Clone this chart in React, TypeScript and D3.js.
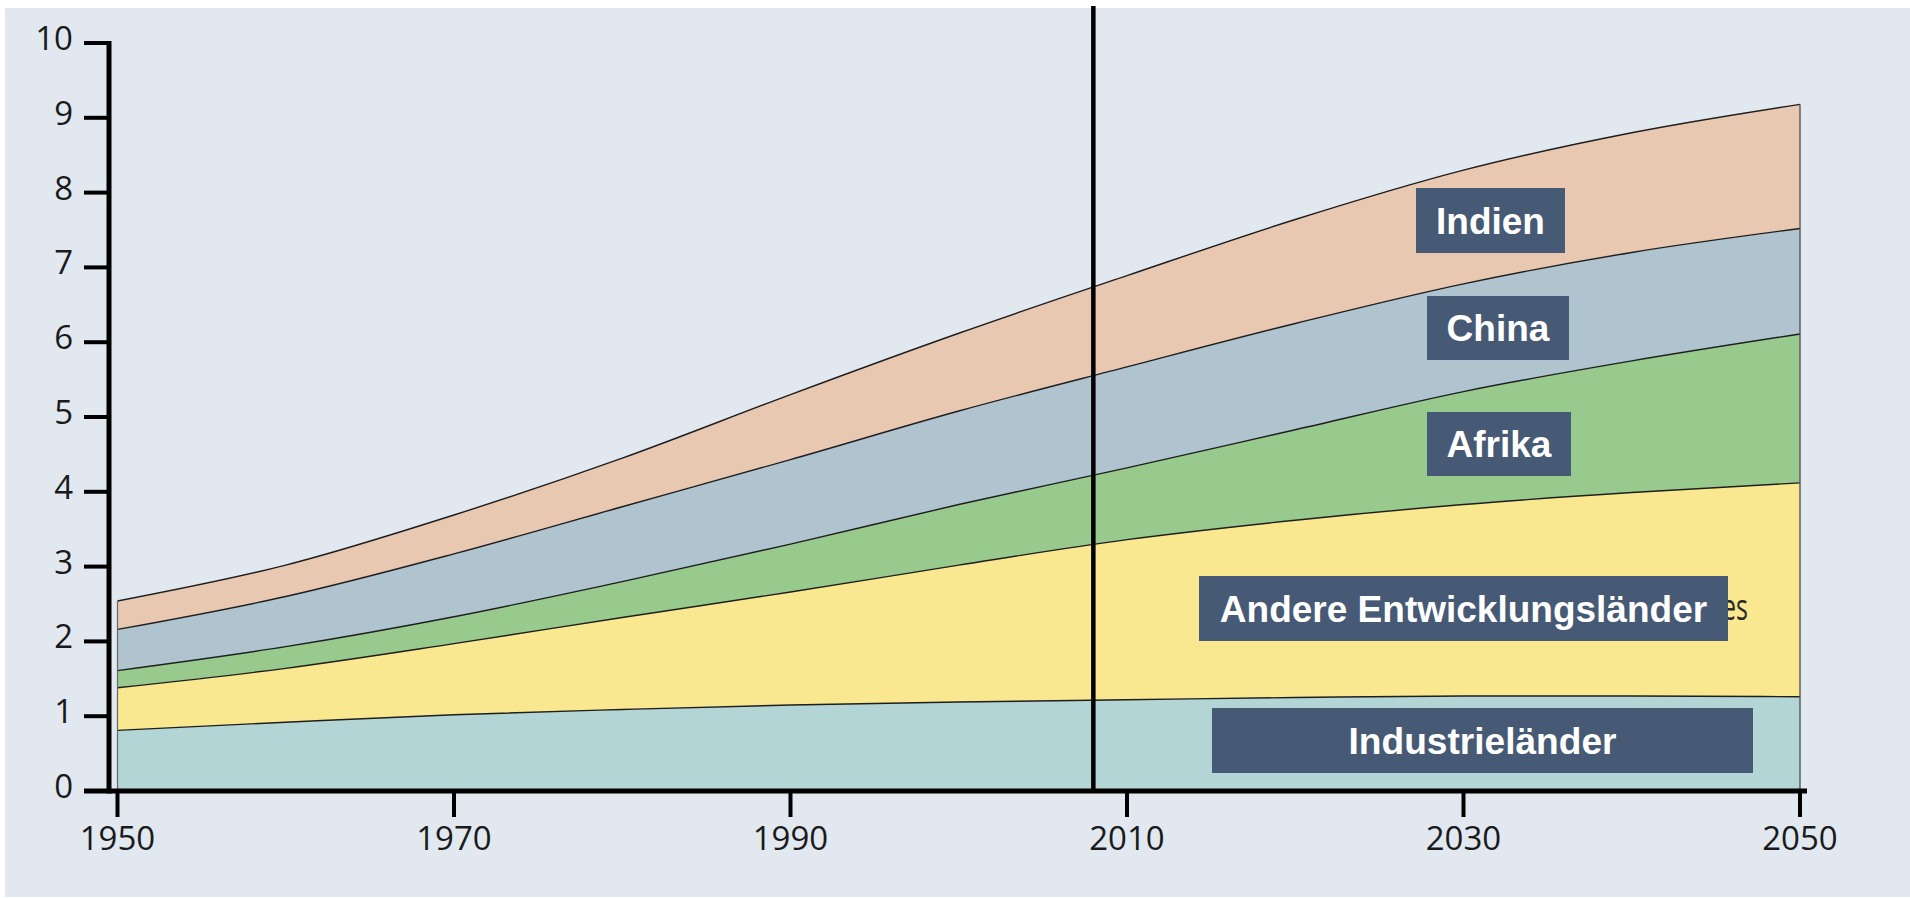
import React from "react";
import * as d3 from "d3";

// ---- data (Mrd. Menschen) ----
const years = [1950, 1960, 1970, 1980, 1990, 2000, 2010, 2020, 2030, 2040, 2050];
const industrielaender = [0.81, 0.92, 1.02, 1.09, 1.15, 1.19, 1.22, 1.25, 1.27, 1.27, 1.26];
const andereEntwicklungslaender = [0.57, 0.72, 0.95, 1.23, 1.51, 1.83, 2.14, 2.37, 2.56, 2.72, 2.86];
const afrika = [0.23, 0.29, 0.36, 0.48, 0.64, 0.81, 0.96, 1.21, 1.51, 1.76, 1.99];
const china = [0.55, 0.67, 0.84, 1.0, 1.13, 1.25, 1.35, 1.42, 1.44, 1.45, 1.41];
const indien = [0.38, 0.42, 0.52, 0.65, 0.87, 1.04, 1.22, 1.39, 1.52, 1.60, 1.66];

const seriesKeys = ["ind", "and", "afr", "chn", "inn"];
const seriesNames = ["Industrieländer", "Andere Entwicklungsländer", "Afrika", "China", "Indien"];
const seriesValues = [industrielaender, andereEntwicklungslaender, afrika, china, indien];
const seriesColors = ["#B4D5D5", "#F9E88F", "#98C98D", "#AFC4CF", "#E8C8B1"];

const yTicks = [0, 1, 2, 3, 4, 5, 6, 7, 8, 9, 10];
const xTicks = [1950, 1970, 1990, 2010, 2030, 2050];
const markerYear = 2008;

// ---- layout ----
const W = 1910;
const H = 898;
const x = d3.scaleLinear().domain([1950, 2050]).range([117.5, 1800]);
const y = d3.scaleLinear().domain([0, 10]).range([791, 43]);

const labelBoxes = [
  { key: "inn", x0: 1416, x1: 1565, y0: 188, y1: 253 },
  { key: "chn", x0: 1427, x1: 1569, y0: 296, y1: 360 },
  { key: "afr", x0: 1427, x1: 1571, y0: 412, y1: 476 },
  { key: "and", x0: 1199, x1: 1728, y0: 576, y1: 641 },
  { key: "ind", x0: 1212, x1: 1753, y0: 708, y1: 773, squeeze: 268 },
];

export default function App() {
  const table = years.map((yr, i) => {
    const row: any = { year: yr };
    seriesKeys.forEach((k, s) => (row[k] = seriesValues[s][i]));
    return row;
  });
  const stacked = d3.stack().keys(seriesKeys)(table);

  const area = d3
    .area<any>()
    .x((d) => x(d.data.year))
    .y0((d) => y(d[0]))
    .y1((d) => y(d[1]))
    .curve(d3.curveMonotoneX);
  const line = d3
    .line<any>()
    .x((d) => x(d.data.year))
    .y((d) => y(d[1]))
    .curve(d3.curveMonotoneX);

  const tickFont = "'Open Sans', 'DejaVu Sans', sans-serif";
  const top = stacked[stacked.length - 1];

  return (
    <svg
      width={W}
      height={H}
      style={{ position: "absolute", left: 0, top: 0, display: "block" }}
    >
      <rect x={0} y={0} width={W} height={H} fill="#ffffff" />
      <rect x={5} y={8} width={W - 5} height={889} fill="#E1E8EF" />

      {/* stacked areas */}
      {stacked.map((s, i) => (
        <path key={"a" + i} d={area(s as any) || ""} fill={seriesColors[i]} stroke="none" />
      ))}
      {stacked.map((s, i) => (
        <path
          key={"l" + i}
          d={line(s as any) || ""}
          fill="none"
          stroke="#1e1e1e"
          strokeWidth={1.4}
        />
      ))}
      {/* side edges */}
      <line
        x1={x(1950)}
        x2={x(1950)}
        y1={y(0)}
        y2={y(top[0][1])}
        stroke="#666"
        strokeWidth={1.2}
      />
      <line
        x1={x(2050)}
        x2={x(2050)}
        y1={y(0)}
        y2={y(top[top.length - 1][1])}
        stroke="#555"
        strokeWidth={1.4}
      />

      {/* hidden text remnant */}
      <text
        x={1722}
        y={620}
        fontFamily={tickFont}
        fontSize={36}
        fill="#2a2a2a"
        textLength={26}
        lengthAdjust="spacingAndGlyphs"
      >
        es
      </text>

      {/* label boxes */}
      {labelBoxes.map((b) => {
        const idx = seriesKeys.indexOf(b.key);
        return (
          <g key={"b" + b.key}>
            <rect x={b.x0} y={b.y0} width={b.x1 - b.x0} height={b.y1 - b.y0} fill="#475A75" />
            <text
              x={(b.x0 + b.x1) / 2}
              y={(b.y0 + b.y1) / 2 + 13}
              textAnchor="middle"
              fontFamily="'Liberation Sans', Arial, sans-serif"
              fontWeight="bold"
              fontSize={37}
              fill="#ffffff"
              {...(b.squeeze ? { textLength: b.squeeze, lengthAdjust: "spacingAndGlyphs" } : {})}
            >
              {seriesNames[idx]}
            </text>
          </g>
        );
      })}

      {/* 2008 marker line */}
      <line
        x1={x(markerYear)}
        x2={x(markerYear)}
        y1={6}
        y2={y(0)}
        stroke="#000"
        strokeWidth={4.5}
      />

      {/* y axis */}
      <line x1={109} x2={109} y1={y(10) - 2} y2={y(0) + 2.5} stroke="#000" strokeWidth={5} />
      {yTicks.map((t) => (
        <g key={"yt" + t}>
          <line x1={84} x2={109} y1={y(t)} y2={y(t)} stroke="#000" strokeWidth={4} />
          <text
            x={73}
            y={y(t) + 7}
            textAnchor="end"
            fontFamily={tickFont}
            fontSize={33}
            fill="#1a1a1a"
          >
            {t}
          </text>
        </g>
      ))}

      {/* x axis */}
      <line x1={84} x2={1807} y1={y(0)} y2={y(0)} stroke="#000" strokeWidth={5} />
      {xTicks.map((t) => (
        <g key={"xt" + t}>
          <line x1={x(t)} x2={x(t)} y1={y(0)} y2={817} stroke="#000" strokeWidth={4} />
          <text
            x={x(t)}
            y={850}
            textAnchor="middle"
            fontFamily={tickFont}
            fontSize={33}
            fill="#1a1a1a"
          >
            {t}
          </text>
        </g>
      ))}
    </svg>
  );
}
